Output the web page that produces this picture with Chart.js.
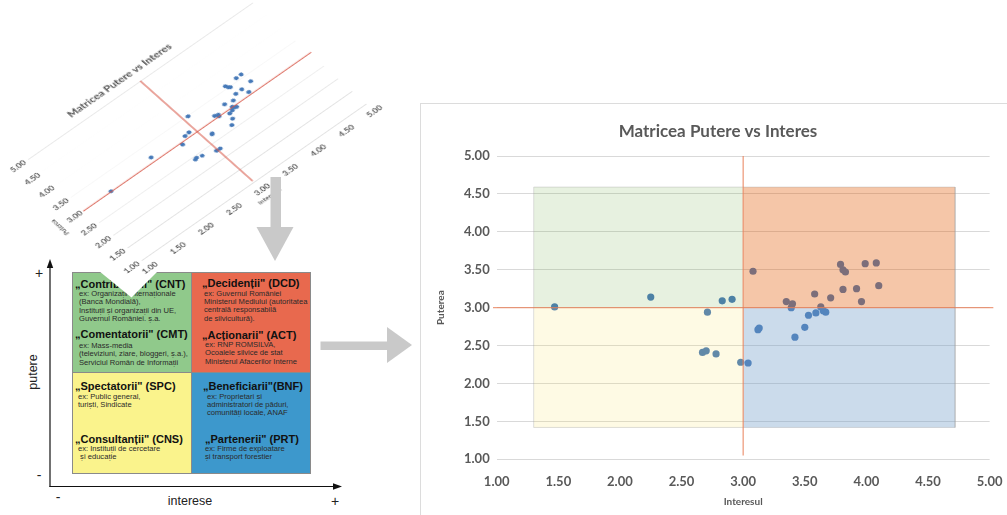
<!DOCTYPE html>
<html>
<head>
<meta charset="utf-8">
<script src="https://cdn.jsdelivr.net/npm/chart.js@4.4.1/dist/chart.umd.min.js"></script>
<style>
  html, body { margin:0; padding:0; background:#fff; }
  body { width:1007px; height:515px; position:relative; overflow:hidden; font-family:"Liberation Sans", Arial, sans-serif; }
  .abs { position:absolute; }
  .box { position:absolute; box-sizing:border-box; border:1px solid #8a8a8a; }
  .blk { position:absolute; white-space:nowrap; }
  .blk .t { font-weight:bold; font-size:11px; line-height:13px; color:#111; }
  .blk .d { font-size:7.6px; line-height:8.4px; color:#2a2a2a; margin-top:-0.5px; }
  #frame { position:absolute; left:420px; top:103px; width:620px; height:430px; border:1px solid #dcdcdc; box-sizing:border-box; }
  #main { position:absolute; left:421px; top:104px; }
  #inset { position:absolute; left:-25.6px; top:166px; transform-origin:0 0; transform:matrix(0.456,-0.318,0.375,0.334,0,0); }
</style>
</head>
<body>
<!-- quadrant diagram -->
<div class="box" style="left:72px;top:272px;width:119.5px;height:100.5px;background:#90c98b;"></div>
<div class="box" style="left:190.5px;top:272px;width:120px;height:100.5px;background:#e8694e;"></div>
<div class="box" style="left:72px;top:371.5px;width:119.5px;height:102px;background:#faf38c;"></div>
<div class="box" style="left:190.5px;top:371.5px;width:120px;height:102px;background:#3d98cc;"></div>

<div class="blk" style="left:75px;top:277.5px;"><div class="t">„Contributorii" (CNT)</div><div class="d" style="padding-left:4px">ex: Organizații Internaționale<br>(Banca Mondială),<br>Instituții și organizații din UE,<br>Guvernul României. ș.a.</div></div>
<div class="blk" style="left:75px;top:328px;"><div class="t">„Comentatorii" (CMT)</div><div class="d" style="padding-left:4px;margin-top:1px">ex: Mass-media<br>(televiziuni, ziare, bloggeri, ș.a.),<br>Serviciul Român de Informații</div></div>
<div class="blk" style="left:202px;top:277px;"><div class="t">„Decidenții" (DCD)</div><div class="d" style="padding-left:2px">ex: Guvernul României<br>Ministerul Mediului (autoritatea<br>centrală responsabilă<br>de silvicultură).</div></div>
<div class="blk" style="left:202px;top:328.5px;"><div class="t">„Acționarii" (ACT)</div><div class="d" style="padding-left:3px">ex: RNP ROMSILVA,<br>Ocoalele silvice de stat<br>Ministerul Afacerilor Interne</div></div>
<div class="blk" style="left:75px;top:380px;"><div class="t">„Spectatorii" (SPC)</div><div class="d" style="padding-left:3px">ex: Public general,<br>turiști, Sindicate</div></div>
<div class="blk" style="left:75px;top:432.5px;"><div class="t">„Consultanții" (CNS)</div><div class="d" style="padding-left:3px">ex: Instituții de cercetare<br>&nbsp;și educație</div></div>
<div class="blk" style="left:203px;top:380px;"><div class="t">„Beneficiarii"(BNF)</div><div class="d" style="padding-left:4px">ex: Proprietari și<br>administratori de păduri,<br>comunități locale, ANAF</div></div>
<div class="blk" style="left:205px;top:432.5px;"><div class="t">„Partenerii" (PRT)</div><div class="d" style="padding-left:0px">ex: Firme de exploatare<br>și transport forestier</div></div>

<svg class="abs" style="left:0;top:0;" width="1007" height="515">
  <polygon points="99,269 99,271 131.5,297.5 158,271 158,269" fill="#ffffff"/>
  <line x1="50" y1="487" x2="50" y2="266" stroke="#111" stroke-width="1.2"/>
  <polygon points="50,259 46.8,268 53.2,268" fill="#111"/>
  <line x1="49.5" y1="486.5" x2="334" y2="486.5" stroke="#111" stroke-width="1.2"/>
  <polygon points="342,486.5 333,483.3 333,489.7" fill="#111"/>
  <text x="39" y="278" font-size="14" text-anchor="middle" fill="#222" font-family="Liberation Sans">+</text>
  <text x="39" y="480" font-size="14" text-anchor="middle" fill="#222" font-family="Liberation Sans">-</text>
  <text transform="translate(37,372) rotate(-90)" font-size="12.5" text-anchor="middle" fill="#222" font-family="Liberation Sans">putere</text>
  <text x="58" y="502" font-size="14" text-anchor="middle" fill="#222" font-family="Liberation Sans">-</text>
  <text x="190" y="505" font-size="12.5" text-anchor="middle" fill="#222" font-family="Liberation Sans">interese</text>
  <text x="335" y="506" font-size="14" text-anchor="middle" fill="#222" font-family="Liberation Sans">+</text>
</svg>

<canvas id="inset" width="596" height="411"></canvas>

<svg class="abs" style="left:0;top:0;" width="1007" height="515">
  <rect x="270.5" y="177" width="10.5" height="50" fill="#c9c9c9"/>
  <polygon points="256.5,227 293.5,227 275,261" fill="#c9c9c9"/>
  <rect x="320.5" y="341.5" width="66.5" height="8.5" fill="#c9c9c9"/>
  <polygon points="387,327 387,363 412,345" fill="#c9c9c9"/>
</svg>

<div id="frame"></div>
<canvas id="main" width="596" height="411"></canvas>

<script>
// ---- data ----
const interest = [1.47, 2.25, 2.83, 2.91, 2.71, 2.67, 2.70, 2.78, 2.98, 3.04,
                  3.12, 3.13, 3.08, 3.79, 3.81, 3.83, 3.99, 4.08, 4.10, 3.92,
                  3.81, 3.96, 3.71, 3.58, 3.35, 3.40, 3.39, 3.63, 3.67, 3.65,
                  3.59, 3.53, 3.50, 3.42];
const power    = [3.01, 3.14, 3.09, 3.11, 2.94, 2.41, 2.43, 2.39, 2.28, 2.27,
                  2.71, 2.73, 3.48, 3.57, 3.50, 3.47, 3.58, 3.59, 3.29, 3.25,
                  3.24, 3.08, 3.13, 3.18, 3.08, 3.05, 3.00, 3.01, 2.94, 2.96,
                  2.93, 2.90, 2.74, 2.61];
const tickValues = [1.00, 1.50, 2.00, 2.50, 3.00, 3.50, 4.00, 4.50, 5.00];
const chartTitle = 'Matricea Putere vs Interes';
const xTitle = 'Interesul';
const yTitle = 'Puterea';
const quadX = [1.3, 3.0, 4.72];      // quadrant rectangle bounds (interest)
const quadY = [1.42, 3.0, 4.59];     // quadrant rectangle bounds (power)
const crossX = 3.0, crossY = 3.0;    // threshold lines
const crossSpanX = [0.97, 5.03];
const crossSpanY = [1.05, 5.0];

const TXT = '#595959';
const FONT = 'Lato';

function buildConfig(inset) {
  const datasets = [];
  datasets.push({
    label: 'stakeholders',
    data: interest.map((x, i) => ({x: x, y: power[i]})),
    showLine: false,
    pointRadius: inset ? 4.2 : 3.6,
    pointBackgroundColor: '#4679b8',
    pointBorderWidth: 0,
    order: 10
  });
  if (!inset) {
    const quadStyles = [
      {from: [0,1], lvl: 2, color: 'rgba(112,173,71,0.17)'},
      {from: [1,2], lvl: 2, color: 'rgba(226,92,6,0.35)'},
      {from: [0,1], lvl: 0, color: 'rgba(250,225,90,0.16)'},
      {from: [1,2], lvl: 0, color: 'rgba(110,155,200,0.36)'}
    ];
    quadStyles.forEach(q => {
      datasets.push({
        label: 'q',
        data: [{x: quadX[q.from[0]], y: quadY[q.lvl]}, {x: quadX[q.from[1]], y: quadY[q.lvl]}],
        borderWidth: 0, borderColor: 'rgba(0,0,0,0)',
        pointRadius: 0, fill: {value: crossY}, backgroundColor: q.color,
        order: 5
      });
    });
    datasets.push({
      label: 'outline',
      data: [{x: quadX[0], y: quadY[0]}, {x: quadX[0], y: quadY[2]}, {x: quadX[2], y: quadY[2]},
             {x: quadX[2], y: quadY[0]}, {x: quadX[0], y: quadY[0]}],
      borderWidth: 1, borderColor: 'rgba(160,160,160,0.35)', pointRadius: 0, fill: false, order: 4
    });
  }
  const crossColor = inset ? 'rgba(215,85,70,0.9)' : 'rgba(232,125,85,0.75)';
  datasets.push({
    label: 'vx',
    data: [{x: crossX, y: crossSpanY[1]}, {x: crossX, y: crossSpanY[0]}],
    borderColor: crossColor, borderWidth: inset ? 2 : 1.3, pointRadius: 0, fill: false, order: 1, clip: false
  });
  datasets.push({
    label: 'hy',
    data: [{x: crossSpanX[0], y: crossY}, {x: crossSpanX[1], y: crossY}],
    borderColor: crossColor, borderWidth: inset ? 2 : 1.3, pointRadius: 0, fill: false, order: 1, clip: false
  });

  const ts = inset ? 19 : 17;                 // title size
  const padTop = 27.2 - ts * 0.6;
  const padBottom = 52 - padTop - ts * 1.2;
  const tickFont = {family: FONT, size: inset ? 15 : 13, weight: 'bold'};
  const axTitleFont = {family: FONT, size: inset ? 12 : 10, weight: 'bold'};
  const setTicks = s => { s.ticks = tickValues.map(v => ({value: v})); };
  return {
    type: 'line',
    data: {datasets: datasets},
    options: {
      responsive: false, animation: false, devicePixelRatio: 1,
      layout: {padding: {left: 20, right: 22, top: 0, bottom: 0}},
      elements: {line: {tension: 0}},
      plugins: {
        legend: {display: false},
        tooltip: {enabled: false},
        title: {display: true, text: chartTitle, color: inset ? '#505050' : TXT,
                font: {family: FONT, size: ts, weight: 'bold'}, padding: {top: padTop, bottom: padBottom}}
      },
      scales: {
        x: {
          type: 'linear', min: 1, max: 5,
          afterBuildTicks: setTicks,
          grid: {display: false, drawTicks: false},
          border: {display: false},
          ticks: {callback: v => Number(v).toFixed(2), color: TXT, font: tickFont, padding: inset ? 13 : 14.5, maxRotation: 0, autoSkip: false},
          title: {display: true, text: xTitle, color: TXT, font: axTitleFont, padding: {top: 0, bottom: 7}},
          afterFit: s => { s.height = 55.7; }
        },
        y: {
          type: 'linear', min: 1, max: 5,
          afterBuildTicks: setTicks,
          grid: {color: inset ? '#e2e2e2' : '#d9d9d9', drawTicks: false},
          border: {display: false},
          ticks: {callback: v => Number(v).toFixed(2), color: TXT, font: tickFont, padding: 7, autoSkip: false},
          title: {display: true, text: yTitle, color: TXT, font: axTitleFont, padding: {top: -6, bottom: 0}},
          afterFit: s => { s.width = 55.7; }
        }
      }
    }
  };
}

new Chart(document.getElementById('inset'), buildConfig(true));
new Chart(document.getElementById('main'), buildConfig(false));
</script>
</body>
</html>
